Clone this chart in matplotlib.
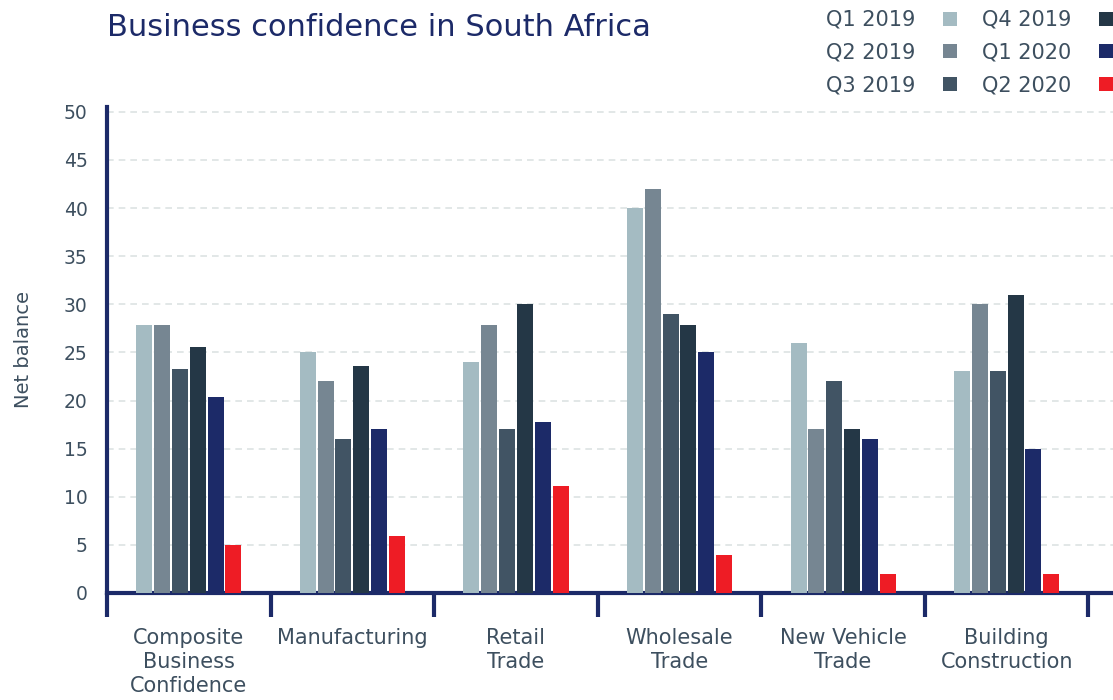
import matplotlib.pyplot as plt
import numpy as np
from matplotlib.patches import Patch

plt.rcParams['font.family'] = ['DejaVu Sans']

# categories and quarterly values (net balance)
categories = ['Composite\nBusiness\nConfidence', 'Manufacturing', 'Retail\nTrade',
              'Wholesale\nTrade', 'New Vehicle\nTrade', 'Building\nConstruction']
quarters = ['Q1 2019', 'Q2 2019', 'Q3 2019', 'Q4 2019', 'Q1 2020', 'Q2 2020']
q1_2019 = [27.8, 25, 24, 40, 26, 23.1]
q2_2019 = [27.8, 22, 27.8, 42, 17, 30]
q3_2019 = [23.3, 16, 17, 29, 22, 23.1]
q4_2019 = [25.6, 23.6, 30, 27.8, 17, 31]
q1_2020 = [20.4, 17, 17.8, 25, 16, 15]
q2_2020 = [5.0, 5.9, 11.1, 4, 2, 2]

series = [q1_2019, q2_2019, q3_2019, q4_2019, q1_2020, q2_2020]
colors = ['#a4bbc2', '#768692', '#415464', '#243746', '#1c2a68', '#ee1c25']

navy = '#1c2a68'
text_col = '#3d4f5f'

fig = plt.figure(figsize=(11.13, 7), dpi=100)
ax = fig.add_axes([107 / 1113, 107 / 700, 1 - 107 / 1113, (593 - 107) / 700])

x = np.arange(len(categories))
step = 0.109
width = 0.098
for i, (vals, c) in enumerate(zip(series, colors)):
    ax.bar(x + (i - 2.5) * step, vals, width=width, color=c, label=quarters[i], zorder=3)

ax.set_xlim(-0.5, 5.65)
ax.set_ylim(0, 50.5)
ax.set_yticks(np.arange(0, 51, 5))
ax.yaxis.grid(True, linestyle=(0, (4, 3)), color='#dde3e3', linewidth=1.2, zorder=0)

# category labels at group centres, separator ticks between groups
ax.set_xticks(x)
ax.set_xticklabels(categories, fontsize=15, color=text_col, linespacing=1.27)
ax.tick_params(axis='x', which='major', length=0, pad=25)
ax.set_xticks(np.arange(-0.5, 5.6, 1), minor=True)
ax.tick_params(axis='x', which='minor', length=17, width=3, color=navy)
ax.tick_params(axis='y', length=0, labelsize=13.5, labelcolor=text_col, pad=14)

for s in ['top', 'right']:
    ax.spines[s].set_visible(False)
for s in ['left', 'bottom']:
    ax.spines[s].set_color(navy)
    ax.spines[s].set_linewidth(3)

ax.set_ylabel('Net balance', fontsize=14, color=text_col, labelpad=22)

fig.text(107 / 1113, 1 - 27 / 700, 'Business confidence in South Africa',
         fontsize=22, color=navy, va='center', ha='left')

handles = [Patch(facecolor=c, edgecolor='none') for c in colors]
fig.legend(handles, quarters, ncol=2, loc='upper right', bbox_to_anchor=(1.0, 1 - 10 / 700),
           frameon=False, markerfirst=False, fontsize=15, labelcolor=text_col,
           handlelength=0.65, handleheight=0.65, handletextpad=1.35,
           columnspacing=1.2, labelspacing=0.6, borderpad=0, borderaxespad=0)

fig.savefig('out.png', dpi=100)
